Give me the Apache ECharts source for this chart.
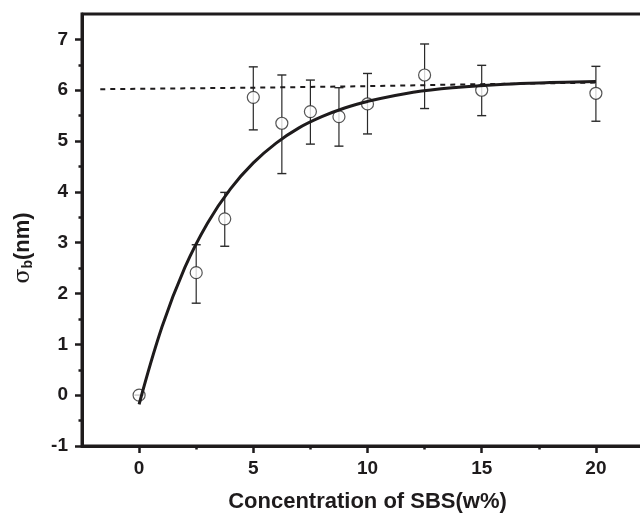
<!DOCTYPE html>
<html>
<head>
<meta charset="utf-8">
<script src="https://cdn.jsdelivr.net/npm/echarts@6/dist/echarts.min.js"></script>
<style>
html,body{margin:0;padding:0;background:#fff;}
#chart{width:640px;height:513px;}
</style>
</head>
<body>
<div id="chart"></div>
<script>
// Measured data points (x = SBS concentration w%, y = sigma_b nm)
var concX = [0, 2.5, 3.75, 5, 6.25, 7.5, 8.75, 10, 12.5, 15, 20];
var sigmaY = [0, 2.41, 3.47, 5.86, 5.35, 5.58, 5.48, 5.73, 6.30, 6.00, 5.94];
var errHigh = [0, 2.96, 3.99, 6.46, 6.30, 6.20, 6.05, 6.33, 6.91, 6.49, 6.47];
var errLow = [0, 1.81, 2.93, 5.22, 4.36, 4.94, 4.90, 5.14, 5.64, 5.50, 5.39];
// Fitted curve
var fitX = [0, 1, 2, 3, 4, 5, 6, 7, 8, 9, 10, 12, 14, 16, 18, 20];
var fitY = [-0.18, 1.34, 2.51, 3.39, 4.06, 4.57, 4.96, 5.26, 5.48, 5.65, 5.78, 5.96, 6.06, 6.12, 6.15, 6.17];
// Dashed reference line
var dashX = [-1.7, 5, 10, 15, 20];
var dashY = [6.02, 6.05, 6.08, 6.12, 6.15];
// Tick labels
var xMajor = [0, 5, 10, 15, 20];
var xMinor = [2.5, 7.5, 12.5, 17.5];
var yMajor = [-1, 0, 1, 2, 3, 4, 5, 6, 7];
var yMinor = [-0.5, 0.5, 1.5, 2.5, 3.5, 4.5, 5.5, 6.5];

var AX = '#1e1b1c';
var font = '"Liberation Sans", Arial, sans-serif';

var pts = concX.map(function (x, i) { return [x, sigmaY[i]]; });
var errs = concX.map(function (x, i) { return [x, errLow[i], errHigh[i]]; });
var fit = fitX.map(function (x, i) { return [x, fitY[i]]; });
var dash = dashX.map(function (x, i) { return [x, dashY[i]]; });

var chart = echarts.init(document.getElementById('chart'), null, {renderer: 'canvas'});
chart.setOption({
  backgroundColor: '#fff',
  animation: false,
  grid: {left: 82, top: 14, right: -13, bottom: 67, containLabel: false, outerBoundsMode: 'none',
         show: true, borderColor: AX, borderWidth: 3, backgroundColor: 'transparent'},
  xAxis: [{
    type: 'value', min: -2.5, max: 22.5, position: 'bottom',
    splitLine: {show: false},
    axisLine: {show: true, onZero: false, lineStyle: {color: AX, width: 3}},
    axisTick: {show: true, customValues: xMajor, length: 7, inside: false, lineStyle: {color: AX, width: 2.5}},
    axisLabel: {customValues: xMajor, margin: 13, color: AX, fontFamily: font, fontWeight: 'bold', fontSize: 19},
    name: 'Concentration of SBS(w%)', nameLocation: 'middle', nameGap: 45,
    nameTextStyle: {color: AX, fontFamily: font, fontWeight: 'bold', fontSize: 22}
  }, {
    type: 'value', min: -2.5, max: 22.5, position: 'bottom', offset: 0,
    splitLine: {show: false},
    axisLine: {show: false, onZero: false},
    axisTick: {show: true, customValues: xMinor, length: 3.5, inside: false, lineStyle: {color: AX, width: 2.5}},
    axisLabel: {show: false}
  }],
  yAxis: [{
    type: 'value', min: -1, max: 7.5, position: 'left',
    splitLine: {show: false},
    axisLine: {show: true, onZero: false, lineStyle: {color: AX, width: 3}},
    axisTick: {show: true, customValues: yMajor, length: 7, inside: false, lineStyle: {color: AX, width: 2.5}},
    axisLabel: {customValues: yMajor, margin: 14, color: AX, fontFamily: font, fontWeight: 'bold', fontSize: 19},
    name: '{s|σ}{sub|b}{t|(nm)}', nameLocation: 'middle', nameGap: 47, nameRotate: 90,
    nameTextStyle: {
      padding: [0, 36, 0, 0],
      rich: {
        s: {fontFamily: '"DejaVu Serif", serif', fontSize: 22, color: AX},
        sub: {fontFamily: font, fontWeight: 'bold', fontSize: 14, color: AX, padding: [10, 0, 0, 0]},
        t: {fontFamily: font, fontWeight: 'bold', fontSize: 22, color: AX}
      }
    }
  }, {
    type: 'value', min: -1, max: 7.5, position: 'left', offset: 0,
    splitLine: {show: false},
    axisLine: {show: false, onZero: false},
    axisTick: {show: true, customValues: yMinor, length: 3.5, inside: false, lineStyle: {color: AX, width: 2.5}},
    axisLabel: {show: false}
  }],
  series: [{
    type: 'custom',
    xAxisIndex: 0, yAxisIndex: 0,
    data: errs,
    z: 2,
    renderItem: function (params, api) {
      var x = api.value(0);
      var lo = api.coord([x, api.value(1)]);
      var hi = api.coord([x, api.value(2)]);
      var hw = 4.5;
      return {
        type: 'group',
        children: [
          {type: 'line', shape: {x1: lo[0], y1: lo[1], x2: hi[0], y2: hi[1]}, style: {stroke: '#2a2a2a', lineWidth: 1.2}},
          {type: 'line', shape: {x1: lo[0] - hw, y1: lo[1], x2: lo[0] + hw, y2: lo[1]}, style: {stroke: '#2a2a2a', lineWidth: 1.4}},
          {type: 'line', shape: {x1: hi[0] - hw, y1: hi[1], x2: hi[0] + hw, y2: hi[1]}, style: {stroke: '#2a2a2a', lineWidth: 1.4}}
        ]
      };
    }
  }, {
    type: 'scatter',
    xAxisIndex: 0, yAxisIndex: 0,
    data: pts,
    symbol: 'circle', symbolSize: 12,
    z: 3,
    itemStyle: {color: '#fff', borderColor: '#2a2a2a', borderWidth: 1.2}
  }, {
    type: 'line',
    xAxisIndex: 0, yAxisIndex: 0,
    data: dash,
    showSymbol: false, symbol: 'none',
    z: 4,
    lineStyle: {color: AX, width: 2, type: [5, 5]}
  }, {
    type: 'line',
    xAxisIndex: 0, yAxisIndex: 0,
    data: fit,
    smooth: 0.4,
    showSymbol: false, symbol: 'none',
    z: 5,
    lineStyle: {color: AX, width: 3}
  }]
});
</script>
</body>
</html>
